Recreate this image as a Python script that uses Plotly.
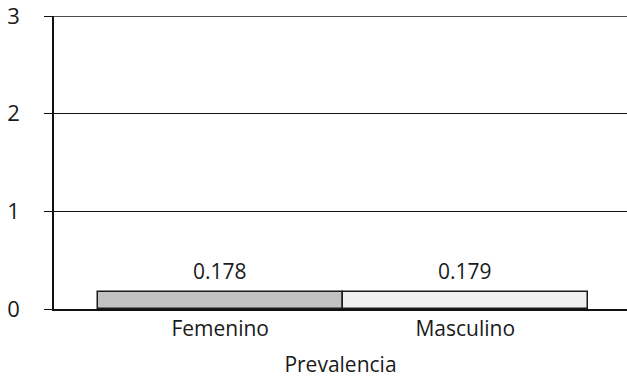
import plotly.graph_objects as go

categories = ["Femenino", "Masculino"]
values = [0.178, 0.179]
labels = ["0.178", "0.179"]
bar_colors = ["#c2c2c2", "#efefef"]
y_ticks = [0, 1, 2, 3]

FONT = "Open Sans, sans-serif"
TXT = "#1a1a1a"
SIZE = 21

fig = go.Figure()
fig.add_trace(go.Bar(
    x=categories,
    y=values,
    marker=dict(color=bar_colors, line=dict(color="#1a1a1a", width=1.5)),
    width=1.0,
    showlegend=False,
))

# value labels above each bar
for cat, val, lab in zip(categories, values, labels):
    fig.add_annotation(
        x=cat, y=val, text=lab, showarrow=False,
        yanchor="bottom", yshift=5,
        font=dict(size=SIZE, color=TXT, family=FONT),
    )

# the top gridline sits on the plot edge, so draw it explicitly
fig.add_shape(
    type="line", xref="paper", x0=0, x1=1,
    yref="y", y0=y_ticks[-1], y1=y_ticks[-1],
    line=dict(color="#111111", width=1.5),
)

fig.update_layout(
    width=627,
    height=381,
    margin=dict(l=54, r=0, t=16, b=72),
    paper_bgcolor="white",
    plot_bgcolor="white",
    font=dict(family=FONT, size=SIZE, color=TXT),
    bargap=0,
)
fig.update_xaxes(
    range=[-0.678, 1.66],
    showline=True,
    linecolor="#111111",
    linewidth=1.5,
    ticks="",
    showgrid=False,
    title=dict(text="Prevalencia", font=dict(size=SIZE), standoff=16),
    tickfont=dict(size=SIZE),
    automargin=False,
)
fig.update_yaxes(
    range=[0, 3],
    tickvals=y_ticks,
    showline=True,
    linecolor="#111111",
    linewidth=1.5,
    showgrid=True,
    gridcolor="#111111",
    gridwidth=1.2,
    ticks="outside",
    ticklen=8,
    tickcolor="#111111",
    ticklabelstandoff=20,
    ticklabeloverflow="allow",
    tickfont=dict(size=22),
    zeroline=False,
    automargin=False,
)

fig.write_html("out.html")
